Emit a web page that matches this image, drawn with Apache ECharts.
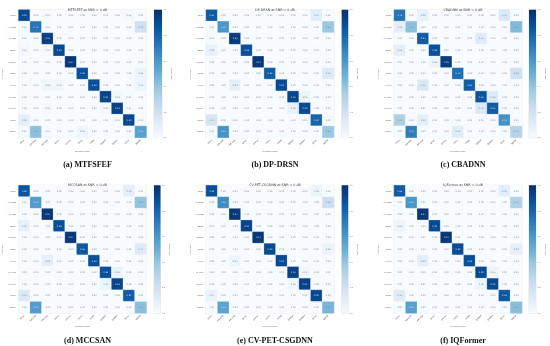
<!DOCTYPE html>
<html><head><meta charset="utf-8">
<style>html,body{margin:0;padding:0;background:#fff}#c{width:550px;height:346px}</style>
<script src="https://cdn.jsdelivr.net/npm/echarts@6/dist/echarts.min.js"></script>
</head><body><div id="c"></div>
<script>
const classes = ['8PSK','AM-DSB','AM-SSB','BPSK','CPFSK','GFSK','PAM4','QAM16','QAM64','QPSK','WBFM'];
const colorbarTicks = [0,0.2,0.4,0.6,0.8,1];
const blues = ['#f7fbff','#deebf7','#c6dbef','#9ecae1','#6baed6','#4292c6','#2171b5','#08519c','#08306b'];

const mtfsfef = [
[0.90,0.00,0.01,0.00,0.00,0.00,0.00,0.00,0.00,0.02,0.00],
[0.01,0.74,0.01,0.00,0.00,0.00,0.00,0.00,0.00,0.00,0.20],
[0.01,0.00,0.94,0.00,0.00,0.00,0.00,0.00,0.00,0.00,0.00],
[0.02,0.00,0.01,0.90,0.00,0.00,0.00,0.00,0.00,0.00,0.00],
[0.00,0.00,0.00,0.00,0.97,0.00,0.00,0.00,0.00,0.00,0.01],
[0.00,0.00,0.00,0.00,0.00,0.88,0.00,0.00,0.00,0.00,0.06],
[0.00,0.00,0.04,0.04,0.00,0.00,0.88,0.00,0.00,0.00,0.05],
[0.00,0.00,0.00,0.00,0.00,0.00,0.00,0.92,0.02,0.01,0.00],
[0.00,0.00,0.02,0.00,0.00,0.00,0.00,0.03,0.93,0.01,0.00],
[0.09,0.00,0.00,0.00,0.00,0.00,0.00,0.00,0.01,0.90,0.00],
[0.01,0.42,0.01,0.00,0.00,0.05,0.00,0.00,0.00,0.00,0.56]];
const dpDrsn = [
[0.84,0.00,0.00,0.00,0.00,0.00,0.00,0.00,0.00,0.11,0.00],
[0.00,0.60,0.00,0.00,0.00,0.00,0.00,0.00,0.00,0.00,0.38],
[0.01,0.00,0.96,0.00,0.00,0.00,0.00,0.00,0.00,0.00,0.00],
[0.08,0.00,0.00,0.88,0.00,0.00,0.00,0.00,0.00,0.01,0.00],
[0.00,0.00,0.00,0.00,0.97,0.00,0.00,0.00,0.00,0.00,0.00],
[0.00,0.00,0.00,0.00,0.00,0.83,0.00,0.00,0.00,0.00,0.13],
[0.00,0.00,0.09,0.00,0.00,0.00,0.90,0.00,0.00,0.00,0.00],
[0.00,0.00,0.00,0.00,0.00,0.00,0.00,0.92,0.06,0.00,0.00],
[0.00,0.00,0.00,0.00,0.00,0.00,0.00,0.08,0.90,0.00,0.00],
[0.17,0.00,0.00,0.00,0.00,0.00,0.00,0.00,0.00,0.80,0.00],
[0.00,0.61,0.00,0.00,0.00,0.00,0.00,0.00,0.00,0.00,0.38]];
const cbadnn = [
[0.74,0.00,0.08,0.00,0.00,0.00,0.00,0.00,0.00,0.15,0.00],
[0.09,0.42,0.00,0.00,0.00,0.00,0.00,0.00,0.00,0.00,0.45],
[0.00,0.00,0.84,0.00,0.00,0.00,0.00,0.12,0.00,0.00,0.00],
[0.09,0.00,0.00,0.88,0.00,0.00,0.00,0.00,0.00,0.00,0.00],
[0.00,0.00,0.00,0.05,0.95,0.00,0.00,0.00,0.00,0.00,0.00],
[0.00,0.00,0.00,0.00,0.00,0.76,0.00,0.00,0.00,0.00,0.20],
[0.00,0.00,0.15,0.00,0.00,0.00,0.82,0.00,0.00,0.00,0.00],
[0.00,0.00,0.00,0.00,0.00,0.00,0.00,0.86,0.13,0.00,0.00],
[0.00,0.00,0.00,0.00,0.00,0.00,0.00,0.14,0.83,0.00,0.00],
[0.33,0.00,0.09,0.00,0.00,0.00,0.00,0.00,0.00,0.62,0.00],
[0.00,0.70,0.00,0.00,0.00,0.12,0.00,0.00,0.00,0.00,0.30]];
const mccsan = [
[0.86,0.00,0.00,0.00,0.00,0.00,0.00,0.00,0.00,0.10,0.00],
[0.01,0.58,0.00,0.00,0.00,0.00,0.00,0.00,0.00,0.00,0.40],
[0.00,0.00,0.97,0.00,0.00,0.00,0.00,0.00,0.00,0.00,0.00],
[0.08,0.00,0.00,0.88,0.00,0.00,0.00,0.00,0.00,0.00,0.00],
[0.00,0.00,0.00,0.00,0.97,0.00,0.00,0.00,0.00,0.00,0.00],
[0.00,0.00,0.00,0.00,0.00,0.85,0.00,0.00,0.00,0.00,0.12],
[0.00,0.00,0.09,0.00,0.00,0.00,0.88,0.00,0.00,0.00,0.00],
[0.00,0.00,0.00,0.00,0.00,0.00,0.00,0.88,0.06,0.00,0.00],
[0.00,0.00,0.00,0.00,0.00,0.00,0.00,0.05,0.92,0.00,0.00],
[0.14,0.00,0.00,0.00,0.00,0.00,0.00,0.00,0.00,0.83,0.00],
[0.00,0.58,0.00,0.00,0.00,0.00,0.00,0.00,0.00,0.00,0.42]];
const cvPetCsgdnn = [
[0.88,0.00,0.00,0.00,0.00,0.00,0.00,0.00,0.00,0.06,0.00],
[0.00,0.64,0.00,0.00,0.00,0.00,0.00,0.00,0.00,0.00,0.22],
[0.00,0.00,0.97,0.00,0.00,0.00,0.00,0.00,0.00,0.00,0.00],
[0.01,0.00,0.00,0.92,0.00,0.00,0.00,0.00,0.00,0.00,0.00],
[0.00,0.00,0.00,0.00,0.97,0.00,0.00,0.00,0.00,0.00,0.00],
[0.00,0.00,0.00,0.00,0.00,0.90,0.00,0.00,0.00,0.00,0.06],
[0.00,0.00,0.05,0.00,0.00,0.00,0.90,0.00,0.00,0.00,0.00],
[0.00,0.00,0.00,0.00,0.00,0.00,0.00,0.93,0.03,0.00,0.00],
[0.00,0.00,0.00,0.00,0.00,0.00,0.00,0.04,0.93,0.00,0.00],
[0.07,0.00,0.00,0.00,0.00,0.00,0.00,0.00,0.00,0.90,0.00],
[0.00,0.55,0.00,0.00,0.00,0.00,0.00,0.00,0.00,0.00,0.47]];
const iqFormer = [
[0.84,0.00,0.00,0.00,0.00,0.00,0.00,0.00,0.00,0.10,0.00],
[0.00,0.60,0.00,0.00,0.00,0.00,0.00,0.00,0.00,0.00,0.32],
[0.00,0.00,0.97,0.00,0.00,0.00,0.00,0.00,0.00,0.00,0.00],
[0.05,0.00,0.00,0.90,0.00,0.00,0.00,0.00,0.00,0.00,0.00],
[0.00,0.00,0.00,0.00,0.97,0.00,0.00,0.00,0.00,0.00,0.00],
[0.00,0.00,0.00,0.00,0.00,0.89,0.00,0.00,0.00,0.00,0.09],
[0.00,0.00,0.09,0.00,0.00,0.00,0.88,0.00,0.00,0.00,0.00],
[0.00,0.00,0.00,0.00,0.00,0.00,0.00,0.90,0.05,0.00,0.00],
[0.00,0.00,0.00,0.00,0.00,0.00,0.00,0.05,0.90,0.00,0.00],
[0.12,0.00,0.00,0.00,0.00,0.00,0.00,0.00,0.00,0.85,0.00],
[0.00,0.56,0.00,0.00,0.00,0.00,0.00,0.00,0.00,0.00,0.43]];

const panels = [
 {letter:'a',name:'MTFSFEF',m:mtfsfef,x:18.5,y:9.7,bx:154,bw:8},
 {letter:'b',name:'DP-DRSN',m:dpDrsn,x:206,y:9.7,bx:341.7,bw:6.5},
 {letter:'c',name:'CBADNN',m:cbadnn,x:394,y:9.7,bx:529,bw:7},
 {letter:'d',name:'MCCSAN',m:mccsan,x:18.5,y:185.3,bx:154,bw:6.5},
 {letter:'e',name:'CV-PET-CSGDNN',m:cvPetCsgdnn,x:206,y:185.3,bx:341.7,bw:6.5},
 {letter:'f',name:'IQFormer',m:iqFormer,x:394,y:185.3,bx:529,bw:7}
];
const SIZE = 128, FS = 2.2, TXT = '#666';
const opt = {animation:false,backgroundColor:'#fff',title:[],grid:[],xAxis:[],yAxis:[],visualMap:[],series:[]};
panels.forEach((p,i)=>{
  const cx = p.x + SIZE/2;
  opt.title.push({text:p.name+' at SNR = 0 dB',left:cx,top:p.y-6.4,textAlign:'center',
    textStyle:{fontFamily:'DejaVu Sans',fontSize:3.3,fontWeight:'normal',color:'#444'}});
  opt.title.push({text:'{n|(}{b|'+p.letter+'}{n|) '+p.name+'}',left:cx,top:p.y+146.5,textAlign:'center',
    textStyle:{rich:{n:{fontFamily:'Liberation Serif',fontSize:8,color:'#111'},
                     b:{fontFamily:'Liberation Serif',fontSize:8,fontWeight:'bold',color:'#111'}}}});
  const hi = opt.grid.length;
  opt.grid.push({left:p.x,top:p.y,width:SIZE,height:SIZE,show:true,borderColor:'#c4ccd4',borderWidth:0.5});
  opt.xAxis.push({type:'category',gridIndex:hi,data:classes,name:'Predicted Label',nameLocation:'middle',nameGap:12.5,
    nameTextStyle:{fontSize:FS,color:TXT},axisTick:{show:false},axisLine:{show:false},splitLine:{show:false},
    axisLabel:{fontSize:FS,color:TXT,rotate:45,margin:2,interval:0}});
  opt.yAxis.push({type:'category',gridIndex:hi,data:classes,inverse:true,name:'True Label',nameLocation:'middle',nameGap:14,
    nameTextStyle:{fontSize:FS,color:TXT},axisTick:{show:false},axisLine:{show:false},splitLine:{show:false},
    axisLabel:{fontSize:FS,color:TXT,margin:2.5,interval:0}});
  const cells = [];
  p.m.forEach((row,r)=>row.forEach((v,c)=>cells.push({value:[c,r,v],label:{color:v>0.5?'#dde':'#808890'}})));
  const si = opt.series.length;
  opt.series.push({type:'heatmap',xAxisIndex:hi,yAxisIndex:hi,data:cells,
    itemStyle:{borderColor:'#fff',borderWidth:0.25},
    label:{show:true,fontSize:FS,fontFamily:'DejaVu Sans',formatter:d=>d.value[2].toFixed(2)}});
  opt.visualMap.push({show:false,type:'continuous',seriesIndex:si,min:0,max:1,inRange:{color:blues}});
  const bi = opt.grid.length;
  opt.grid.push({left:p.bx,top:p.y,width:p.bw,height:SIZE,show:true,borderColor:'#aab',borderWidth:0.3});
  opt.xAxis.push({type:'category',gridIndex:bi,data:[''],show:false});
  opt.yAxis.push({type:'value',gridIndex:bi,min:0,max:1,interval:0.2,position:'right',name:'Percentage',
    nameLocation:'middle',nameGap:8.5,nameRotate:-90,nameTextStyle:{fontSize:FS,color:TXT},
    axisTick:{show:false},axisLine:{show:false},splitLine:{show:false},
    axisLabel:{fontSize:FS,color:TXT,margin:1.5,formatter:v=>colorbarTicks.includes(v)?v.toFixed(1):''}});
  opt.series.push({type:'bar',xAxisIndex:bi,yAxisIndex:bi,data:[1],barWidth:'100%',silent:true,
    itemStyle:{color:{type:'linear',x:0,y:1,x2:0,y2:0,
      colorStops:blues.map((c,k)=>({offset:k/(blues.length-1),color:c}))}}});
});
const chart = echarts.init(document.getElementById('c'),null,{renderer:'canvas'});
chart.setOption(opt);
</script></body></html>
